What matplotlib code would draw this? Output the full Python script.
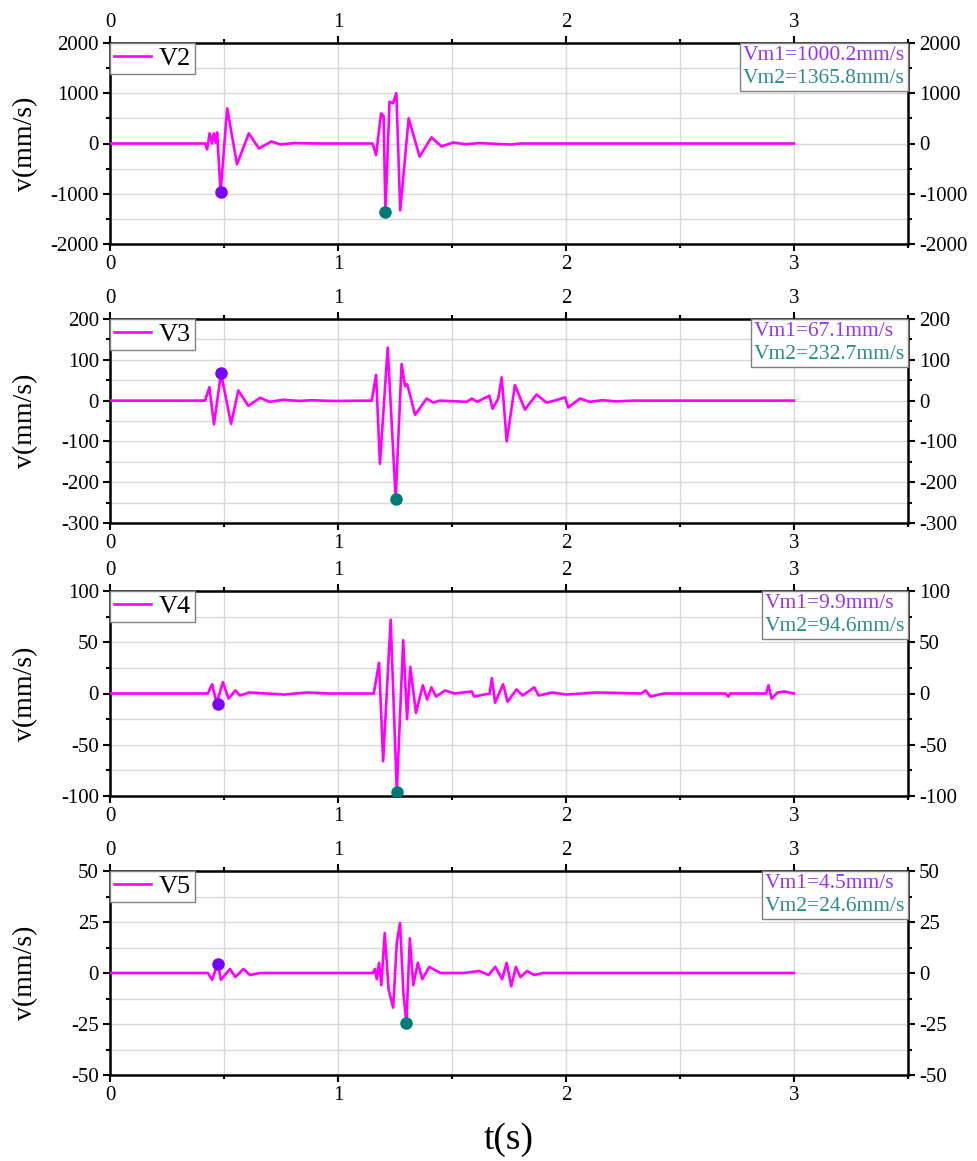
#!/usr/bin/env python3
"""plot.py - velocity time histories V2..V5 with the two peak velocities marked."""
import matplotlib
matplotlib.use("Agg")
import matplotlib.pyplot as plt
from matplotlib.ticker import MultipleLocator
from matplotlib.offsetbox import TextArea, VPacker, AnchoredOffsetbox

plt.rcParams["font.family"] = ["Liberation Serif", "DejaVu Serif"]
plt.rcParams["axes.unicode_minus"] = False

# ---- data (t in s, v in mm/s) ----
labels = ["V2", "V3", "V4", "V5"]

t_v2 = [0, 0.418, 0.426, 0.437, 0.447, 0.455, 0.463, 0.47, 0.485, 0.514, 0.557, 0.609,
        0.653, 0.708, 0.749, 0.808, 0.9, 1.152, 1.167, 1.189, 1.2, 1.208, 1.226, 1.241,
        1.256, 1.273, 1.31, 1.358, 1.41, 1.454, 1.505, 1.56, 1.62, 1.7, 1.76, 1.8, 3.0]
v_v2 = [0, 0, -115, 203, 0, 200, 20, 220, -970, 700, -414, 203,
        -100, 40, -20, 10, 0, 0, -229, 600, 550, -1365, 832, 800,
        1000, -1330, 501, -262, 123, -60, 20, -15, 10, -10, -20, 0, 0]

t_v3 = [0, 0.417, 0.436, 0.456, 0.487, 0.531, 0.563, 0.607, 0.658, 0.70, 0.76, 0.833,
        0.88, 0.98, 1.148, 1.167, 1.184, 1.218, 1.253, 1.279, 1.294, 1.304, 1.338, 1.389,
        1.418, 1.447, 1.565, 1.587, 1.61, 1.664, 1.678, 1.703, 1.718, 1.74, 1.776, 1.82,
        1.871, 1.915, 1.95, 1.996, 2.01, 2.061, 2.105, 2.16, 2.22, 2.3, 3.0]
v_v3 = [0, 0, 33, -58, 67, -57, 25, -13, 7, -3, 2, -1,
        1, -1, 0, 63, -155, 130, -240, 90, 35, 40, -35, 5,
        -5, 0, -3, 5, -3, 12, -20, 5, 57, -100, 38, -22,
        15, -5, 0, 8, -17, 5, -3, 1, -2, 0, 0]

t_v4 = [0, 0.429, 0.448, 0.468, 0.495, 0.52, 0.55, 0.57, 0.61, 0.765, 0.863, 0.96,
        1.157, 1.18, 1.198, 1.231, 1.258, 1.286, 1.303, 1.317, 1.342, 1.372, 1.391, 1.41,
        1.43, 1.47, 1.51, 1.587, 1.597, 1.665, 1.675, 1.689, 1.724, 1.744, 1.783, 1.81,
        1.861, 1.88, 1.94, 2.0, 2.135, 2.33, 2.35, 2.37, 2.43, 2.70, 2.712, 2.72,
        2.878, 2.888, 2.902, 2.928, 2.957, 3.0]
v_v4 = [0, 0, 9, -9.5, 11, -5, 3, -2, 1, -1, 1, 0,
        0, 30, -66, 72, -96, 52, -25, 26, -19, 8, -6, 6,
        -3, 3, 0, 2, -3, 0, 15, -9, 9, -8, 4, -2,
        6, -2, 1, -1, 1, 0, 3, -3, 0, 0, -3, 0,
        0, 8, -5, 1, 2, 0]

t_v5 = [0, 0.429, 0.448, 0.472, 0.487, 0.526, 0.55, 0.585, 0.614, 0.66, 1.153, 1.162,
        1.17, 1.18, 1.19, 1.205, 1.222, 1.242, 1.258, 1.272, 1.287, 1.30, 1.315, 1.33,
        1.35, 1.37, 1.40, 1.45, 1.55, 1.62, 1.66, 1.69, 1.72, 1.74, 1.76, 1.78, 1.80,
        1.83, 1.86, 1.9, 3.0]
v_v5 = [0, 0, -3.3, 4.5, -3.3, 2, -2, 2, -1, 0, 0, 2,
        -3, 5, -6, 19.6, -8, -17, 15, 24.5, -10, -24.6, 17, -6,
        5, -3, 3, 0, 0, 1, -1, 3, -3, 5, -6.5, 3, -2,
        1, -1, 0, 0]

# peak markers (Vm1 first arrival, Vm2 second arrival)
peak1_t = [0.485, 0.487, 0.472, 0.472]
peak1_v = [-970, 67, -9.9, 4.5]
peak2_t = [1.208, 1.253, 1.258, 1.30]
peak2_v = [-1365, -242, -96, -24.6]
vm1 = ["1000.2", "67.1", "9.9", "4.5"]
vm2 = ["1365.8", "232.7", "94.6", "24.6"]

ylims = [(-2000, 2000), (-300, 200), (-100, 100), (-50, 50)]
ysteps = [1000, 100, 50, 25]

series = [(t_v2, v_v2), (t_v3, v_v3), (t_v4, v_v4), (t_v5, v_v5)]

# axes boxes in pixels (top, bottom) for a 978x1161 canvas
W, H = 978, 1161
boxes = [(43, 244), (319, 523), (591, 796), (871, 1075)]
x0, x1 = 110, 908

LINE = "#FF00FF"
C1_MK, C1_TX = "#7A00FF", "#9933EE"
C2_MK, C2_TX = "#007A74", "#2E8B8B"
GRID = "#D8D8D8"

fig = plt.figure(figsize=(W / 100, H / 100), dpi=100)
for i, (top, bot) in enumerate(boxes):
    ax = fig.add_axes([x0 / W, 1 - bot / H, (x1 - x0) / W, (bot - top) / H])
    t, v = series[i]
    ax.plot(t, v, color=LINE, lw=1.9, label=labels[i], zorder=3)
    ax.plot(peak1_t[i], peak1_v[i], "o", color=C1_MK, ms=8, zorder=4)
    ax.plot(peak2_t[i], peak2_v[i], "o", color=C2_MK, ms=8, zorder=4)

    ax.set_xlim(0, 3.5)
    ax.set_ylim(*ylims[i])
    ax.xaxis.set_major_locator(MultipleLocator(1))
    ax.xaxis.set_minor_locator(MultipleLocator(0.5))
    ax.yaxis.set_major_locator(MultipleLocator(ysteps[i]))
    ax.yaxis.set_minor_locator(MultipleLocator(ysteps[i] / 2))
    ax.set_xticks([0, 1, 2, 3])
    ax.grid(True, which="both", color=GRID, lw=1.0, zorder=0)
    ax.tick_params(which="both", direction="out", top=True, right=True,
                   labeltop=True, labelright=True, labelsize=15, width=1.5, pad=3)
    ax.tick_params(which="major", length=5)
    ax.tick_params(which="minor", length=3)
    for s in ax.spines.values():
        s.set_linewidth(1.8)
    ax.set_ylabel("v(mm/s)", fontsize=20)
    ax.yaxis.set_label_coords(-0.09, 0.5)

    leg = ax.legend(loc="upper left", fontsize=19, handlelength=1.4, handletextpad=0.3,
                    borderpad=0.15, borderaxespad=0, fancybox=False, framealpha=1)
    leg.get_frame().set_edgecolor("#808080")
    leg.get_frame().set_linewidth(1.0)

    # Vm1 / Vm2 box in the upper right corner, two coloured lines left-aligned
    l1 = TextArea(f"Vm1={vm1[i]}mm/s", textprops=dict(color=C1_TX, fontsize=15.5))
    l2 = TextArea(f"Vm2={vm2[i]}mm/s", textprops=dict(color=C2_TX, fontsize=15.5))
    pack = VPacker(children=[l1, l2], align="left", pad=0, sep=3)
    box = AnchoredOffsetbox(loc="upper right", child=pack, pad=0.2, borderpad=0,
                            frameon=True, bbox_to_anchor=(1.0, 1.0),
                            bbox_transform=ax.transAxes)
    box.patch.set_edgecolor("#808080")
    box.patch.set_linewidth(1.0)
    box.patch.set_boxstyle("square,pad=0")
    box.set_zorder(6)
    ax.add_artist(box)

fig.text(x0 / W + (x1 - x0) / W / 2, 1 - 1140 / H, "t(s)", fontsize=27,
         ha="center", va="center")

fig.savefig("out.png", dpi=100)
